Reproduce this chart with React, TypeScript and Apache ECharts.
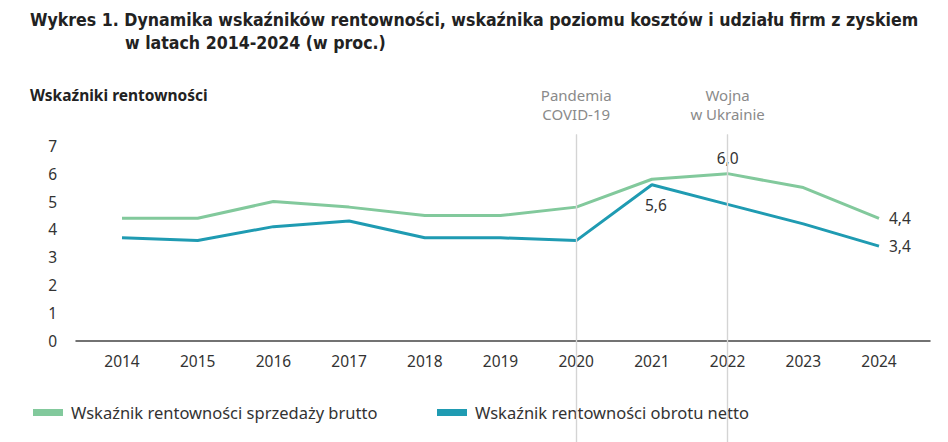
import React, { useEffect, useRef } from "react";
import * as echarts from "echarts";

const years = ["2014", "2015", "2016", "2017", "2018", "2019", "2020", "2021", "2022", "2023", "2024"];
const grossSales = [4.4, 4.4, 5.0, 4.8, 4.5, 4.5, 4.8, 5.8, 6.0, 5.5, 4.4];
const netTurnover = [3.7, 3.6, 4.1, 4.3, 3.7, 3.7, 3.6, 5.6, 4.9, 4.2, 3.4];
const yTicks = [0, 1, 2, 3, 4, 5, 6, 7];
const events = [
  { year: "2020", lines: ["Pandemia", "COVID-19"] },
  { year: "2022", lines: ["Wojna", "w Ukrainie"] },
];
const grossName = "Wskaźnik rentowności sprzedaży brutto";
const netName = "Wskaźnik rentowności obrotu netto";
const titleLine1 = "Wykres 1. Dynamika wskaźników rentowności, wskaźnika poziomu kosztów i udziału firm z zyskiem";
const titleLine2 = "w latach 2014-2024 (w proc.)";
const subTitle = "Wskaźniki rentowności";

const GREEN = "#82c99c";
const BLUE = "#1f9bb2";
const BODY_FONT = "'Noto Sans', 'Open Sans', sans-serif";
const TITLE_FONT = "'Liberation Sans Narrow', 'DejaVu Sans Condensed', 'Roboto', sans-serif";

const fmt = (v: number) => v.toFixed(1).replace(".", ",");

const labelStyle = { show: true, color: "#333", fontSize: 15.5, fontFamily: BODY_FONT, formatter: (p: any) => fmt(p.value) };

export default function App() {
  const ref = useRef<HTMLDivElement>(null);
  useEffect(() => {
    if (!ref.current) return;
    const chart = echarts.init(ref.current, undefined, { renderer: "svg" });
    const last = years.length - 1;
    const grossData = grossSales.map((v, i) => {
      if (i === 8) return { value: v, label: { ...labelStyle, position: "top", distance: 8 } };
      if (i === last) return { value: v, label: { ...labelStyle, position: "right", distance: 10 } };
      return v;
    });
    const netData = netTurnover.map((v, i) => {
      if (i === 7) return { value: v, label: { ...labelStyle, position: "bottom", distance: 12, offset: [4, 0] } };
      if (i === last) return { value: v, label: { ...labelStyle, position: "right", distance: 10 } };
      return v;
    });
    const eventMarks: any[] = [];
    events.forEach((e) => {
      e.lines.forEach((line, k) => {
        eventMarks.push({
          xAxis: e.year,
          name: line,
          label: { distance: 13 + (e.lines.length - 1 - k) * 19 },
        });
      });
    });
    const legendText = { color: "#333", fontSize: 16.5, fontFamily: BODY_FONT, padding: [0, 0, 0, 3] };
    chart.setOption({
      animation: false,
      backgroundColor: "#fff",
      graphic: [
        { type: "text", left: 30, top: 11, style: { text: titleLine1, font: `bold 17.6px ${TITLE_FONT}`, fill: "#222" } },
        { type: "text", left: 125, top: 34, style: { text: titleLine2, font: `bold 17.6px ${TITLE_FONT}`, fill: "#222" } },
        { type: "text", left: 30, top: 87, style: { text: subTitle, font: `bold 15.5px ${BODY_FONT}`, fill: "#222" } },
      ],
      grid: [
        { left: 122, right: 69, top: 134.6, bottom: 101 },
        { left: 122, right: 69, top: 134.6, bottom: 0 },
        { left: 76, right: 18, top: 134.6, bottom: 101 },
      ],
      legend: [
        {
          data: [grossName],
          left: 33,
          top: 404,
          padding: 0,
          icon: "rect",
          itemWidth: 30,
          itemHeight: 7,
          textStyle: legendText,
        },
        {
          data: [netName],
          left: 437,
          top: 404,
          padding: 0,
          icon: "rect",
          itemWidth: 30,
          itemHeight: 7,
          textStyle: legendText,
        },
      ],
      xAxis: [
        {
          type: "category",
          gridIndex: 0,
          data: years,
          boundaryGap: false,
          axisLine: { show: false },
          axisTick: { show: false },
          axisLabel: { color: "#333", fontSize: 15.5, fontFamily: BODY_FONT, margin: 12 },
        },
        { type: "category", gridIndex: 1, data: years, boundaryGap: false, show: false },
        {
          type: "value",
          gridIndex: 2,
          min: 0,
          max: 1,
          axisLine: { show: true, lineStyle: { color: "#444", width: 1.5 } },
          axisTick: { show: false },
          axisLabel: { show: false },
          splitLine: { show: false },
        },
      ],
      yAxis: [
        {
          type: "value",
          gridIndex: 0,
          min: yTicks[0],
          max: 7.4,
          interval: 1,
          axisLine: { show: false },
          axisTick: { show: false },
          splitLine: { show: false },
          axisLabel: {
            color: "#333",
            fontSize: 15.5,
            fontFamily: BODY_FONT,
            margin: 65,
            showMaxLabel: false,
            formatter: (v: number) => (yTicks.includes(v) ? String(v) : ""),
          },
        },
        { type: "value", gridIndex: 1, show: false, min: 0, max: 1 },
        { type: "value", gridIndex: 2, show: false, min: 0, max: 1 },
      ],
      series: [
        {
          name: "events",
          type: "line",
          xAxisIndex: 1,
          yAxisIndex: 1,
          data: years.map(() => "-"),
          silent: true,
          z: 1,
          markLine: {
            symbol: "none",
            silent: true,
            lineStyle: { color: "#d4d4d4", width: 1.2, type: "solid" },
            label: {
              show: true,
              position: "end",
              color: "#8a8a8a",
              fontSize: 15,
              fontFamily: BODY_FONT,
              formatter: (p: any) => p.name,
            },
            data: eventMarks,
          },
        },
        {
          name: grossName,
          type: "line",
          data: grossData,
          color: GREEN,
          lineStyle: { width: 3, color: GREEN },
          symbol: "circle",
          symbolSize: 0,
          showSymbol: true,
          z: 3,
        },
        {
          name: netName,
          type: "line",
          data: netData,
          color: BLUE,
          lineStyle: { width: 3, color: BLUE },
          symbol: "circle",
          symbolSize: 0,
          showSymbol: true,
          z: 4,
        },
      ],
    });
    return () => chart.dispose();
  }, []);
  return <div ref={ref} style={{ position: "absolute", left: 0, top: 0, width: 948, height: 442 }} />;
}
